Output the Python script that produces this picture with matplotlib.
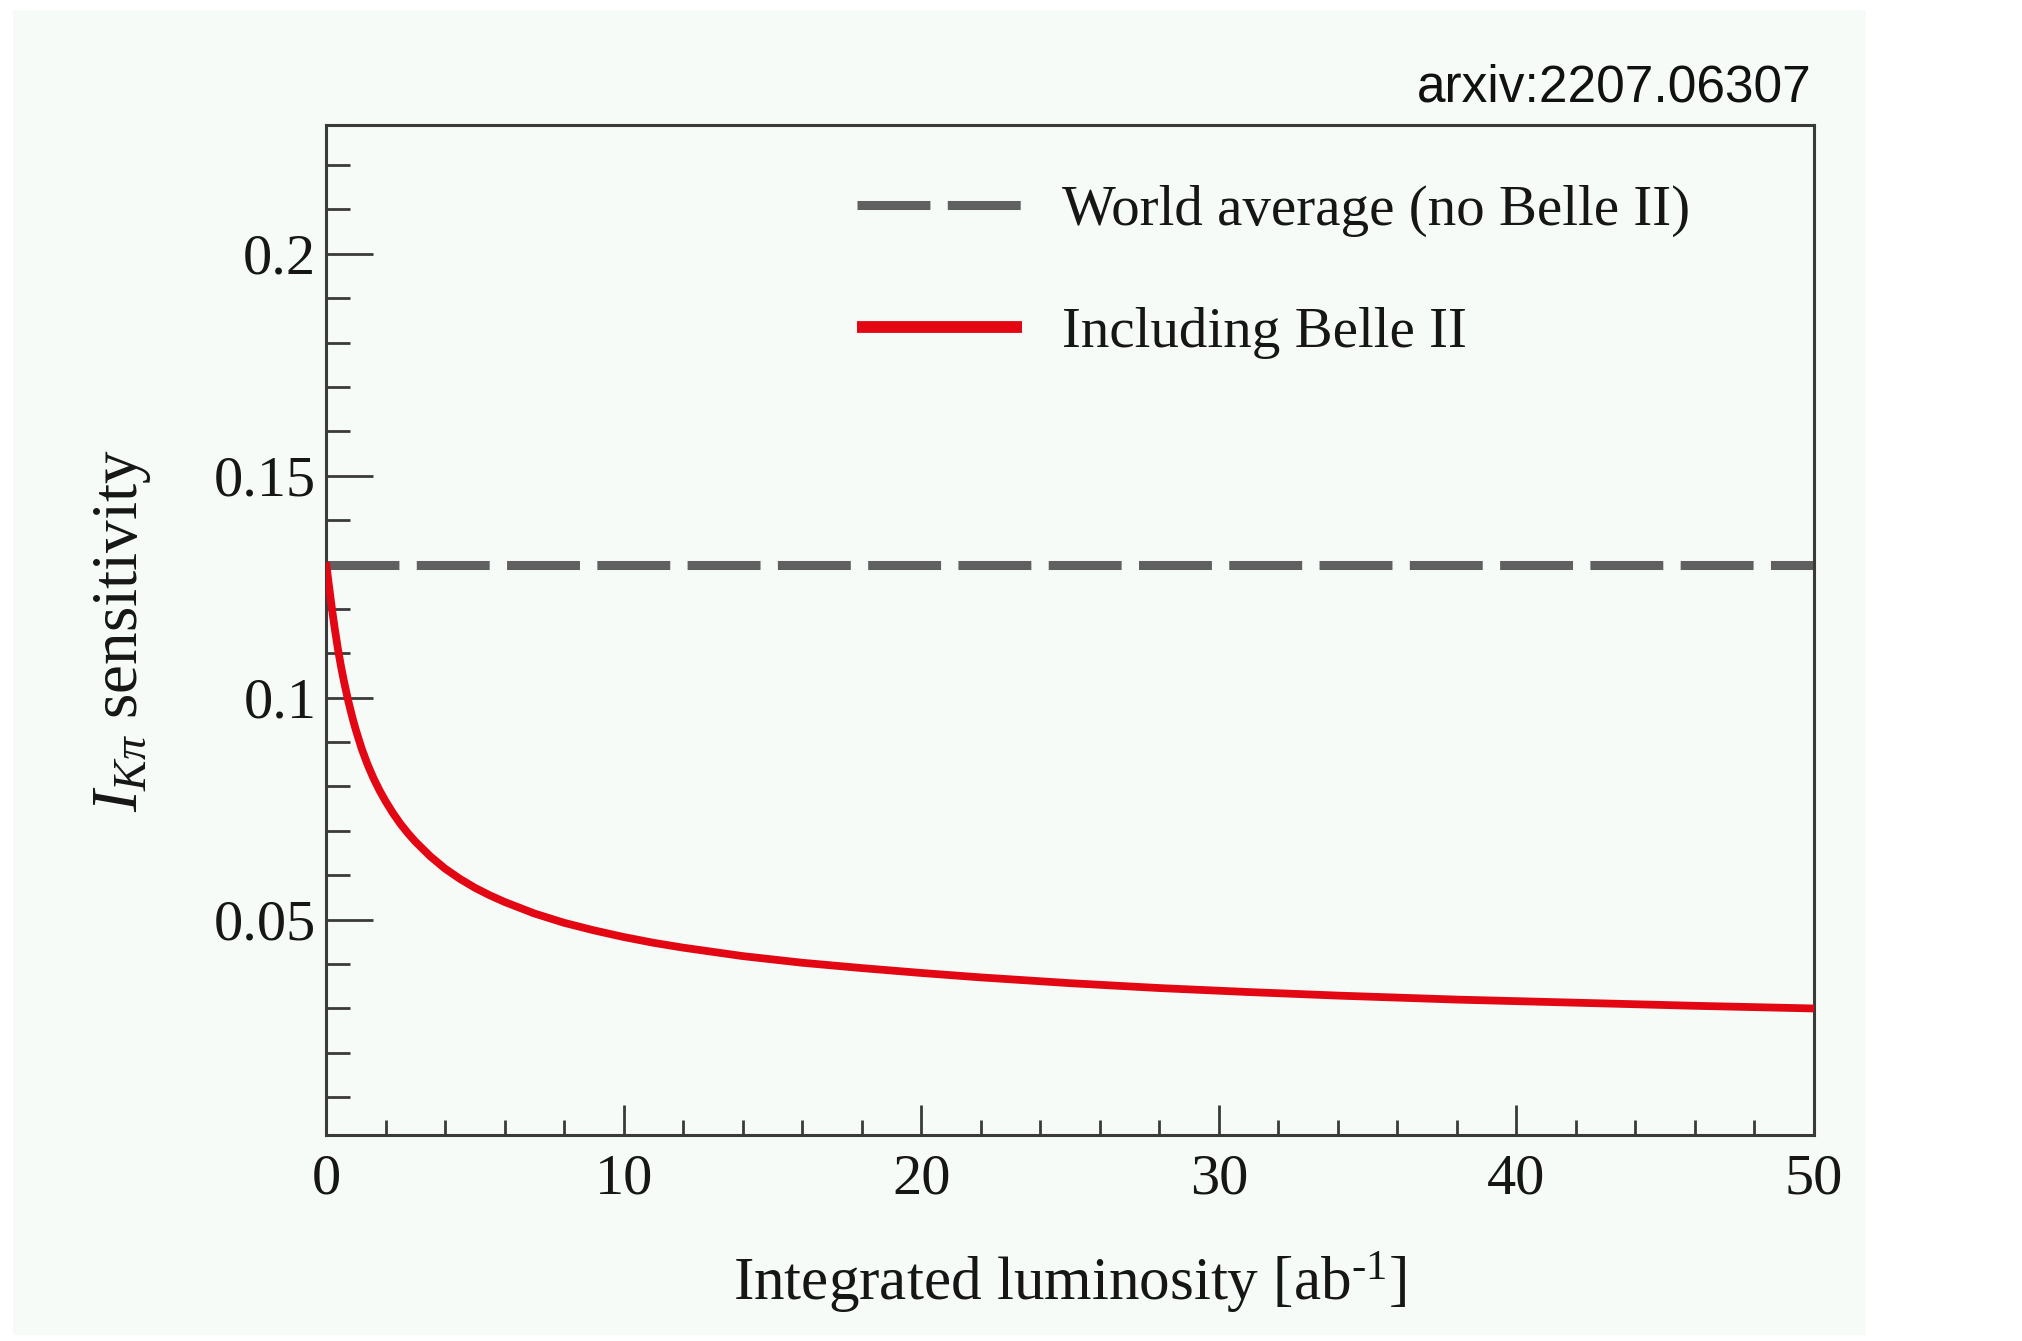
import matplotlib
matplotlib.use("Agg")
import matplotlib.pyplot as plt
from matplotlib.patches import Rectangle
from matplotlib.lines import Line2D

# Integrated luminosity [ab^-1] and projected I_Kpi sensitivity
lumi = [0.0, 0.1, 0.2, 0.3, 0.4, 0.5, 0.6, 0.75, 0.9, 1.0, 1.2, 1.4, 1.6,
        1.8, 2.0, 2.25, 2.5, 2.75, 3.0, 3.5, 4.0, 4.5, 5.0, 5.5, 6.0, 7.0,
        8.0, 9.0, 10.0, 11.0, 12.0, 14.0, 16.0, 18.0, 20.0, 22.0, 25.0,
        28.0, 31.0, 34.0, 38.0, 42.0, 46.0, 50.0]
sens_belle2 = [0.1305, 0.1252, 0.1200, 0.1153, 0.1110, 0.1072, 0.1038,
               0.0992, 0.0952, 0.0928, 0.0885, 0.0849, 0.0818, 0.0791,
               0.0767, 0.0740, 0.0716, 0.0695, 0.0676, 0.0643, 0.0615,
               0.0592, 0.0572, 0.0555, 0.0540, 0.0514, 0.0493, 0.0476,
               0.0461, 0.0448, 0.0437, 0.0418, 0.0403, 0.0391, 0.0380,
               0.0370, 0.0357, 0.0346, 0.0337, 0.0329, 0.0320, 0.0313,
               0.0306, 0.0300]
world_avg = 0.13

x_ticks = [0, 10, 20, 30, 40, 50]
y_ticks = [0.05, 0.1, 0.15, 0.2]
y_ticklabels = ["0.05", "0.1", "0.15", "0.2"]

W, H = 2022, 1341
bg = "#f7fbf8"
ink = "#161616"
axis_col = "#3a3a3a"

plt.rcParams["font.family"] = "serif"
plt.rcParams["font.serif"] = ["Liberation Serif", "DejaVu Serif"]
plt.rcParams["mathtext.fontset"] = "custom"
plt.rcParams["mathtext.rm"] = "Liberation Serif"
plt.rcParams["mathtext.it"] = "Liberation Serif:italic"
plt.rcParams["lines.scale_dashes"] = False

fig = plt.figure(figsize=(W / 100, H / 100), dpi=100, facecolor="white")

# tinted panel behind the whole plot
fig.patches.append(Rectangle((13 / W, 1 - 1335 / H), (1866 - 13) / W, (1335 - 10) / H,
                             transform=fig.transFigure, facecolor=bg,
                             edgecolor="none", zorder=-5))

ax = fig.add_axes([326 / W, 1 - 1135 / H, (1814 - 326) / W, (1135 - 125) / H])
ax.set_facecolor(bg)
ax.set_zorder(1)

ax.axhline(world_avg, color="#606060", lw=6.5, dashes=(52.5, 12.5), zorder=2)
ax.plot(lumi, sens_belle2, color="#e30613", lw=5.6, zorder=3,
        solid_capstyle="butt", solid_joinstyle="round")

ax.set_xlim(0, 50)
ax.set_ylim(0.0015, 0.229)

ax.set_xticks(x_ticks)
ax.set_xticks(range(0, 51, 2), minor=True)
ax.set_yticks(y_ticks, y_ticklabels)
ax.set_yticks([i / 100 for i in range(1, 23)], minor=True)

for s in ax.spines.values():
    s.set_linewidth(2.2)
    s.set_color(axis_col)

ax.tick_params(axis="both", which="both", direction="in", color=axis_col,
               width=2.0, labelsize=42, labelcolor=ink, top=False, right=False)
ax.tick_params(axis="x", which="major", length=21.6, pad=13)
ax.tick_params(axis="x", which="minor", length=10.8)
ax.tick_params(axis="y", which="major", length=33.8, pad=7)
ax.tick_params(axis="y", which="minor", length=17.3)

ax.set_xlabel(r"Integrated luminosity [ab$^{\text{-1}}$]",
              fontsize=44, color=ink)
ax.xaxis.set_label_coords(0.5, -(1283 - 1135) / (1135 - 125))
ax.xaxis.label.set_va("center")
ax.set_ylabel(r"$I_{K\pi}$ sensitivity", fontsize=47, color=ink)
ax.yaxis.set_label_coords(-(326 - 122) / (1814 - 326), 0.5)
ax.yaxis.label.set_va("center")

handles = [
    Line2D([], [], color="#606060", lw=6.5, dashes=(52.5, 12.5)),
    Line2D([], [], color="#e30613", lw=8.5, solid_capstyle="butt"),
]
leg = fig.legend(handles, ["World average (no Belle II)", "Including Belle II"],
                 loc="upper left", bbox_to_anchor=(857 / W, 1 - 185 / H),
                 frameon=False, fontsize=41, handlelength=2.9,
                 handletextpad=0.7, labelspacing=1.23, borderpad=0,
                 borderaxespad=0, labelcolor=ink)
leg.set_zorder(5)

fig.text(1812 / W, 1 - 88 / H, "arxiv:2207.06307", ha="right", va="center",
         fontsize=37, family="Liberation Sans", color="#111111")

fig.savefig("out.png", dpi=100, facecolor="white")
